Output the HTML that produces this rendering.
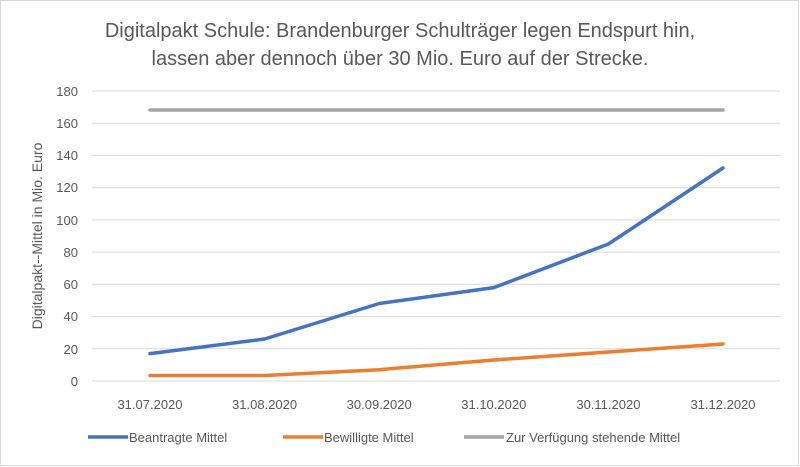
<!DOCTYPE html>
<html><head><meta charset="utf-8"><style>
html,body{margin:0;padding:0;background:#fff;}
svg{display:block;font-family:"Liberation Sans",sans-serif;}
</style></head><body>
<svg width="800" height="467" viewBox="0 0 800 467">
<rect x="0.5" y="0.5" width="798" height="465" fill="#fff" stroke="#d9d9d9"/>
<text x="400" y="37" font-size="20" fill="#595959" text-anchor="middle">Digitalpakt Schule: Brandenburger Schulträger legen Endspurt hin,</text>
<text x="400" y="65" font-size="20" fill="#595959" text-anchor="middle">lassen aber dennoch über 30 Mio. Euro auf der Strecke.</text>
<g stroke="#d9d9d9" stroke-width="1">
<line x1="92" x2="780" y1="91" y2="91"/>
<line x1="92" x2="780" y1="123.2" y2="123.2"/>
<line x1="92" x2="780" y1="155.4" y2="155.4"/>
<line x1="92" x2="780" y1="187.7" y2="187.7"/>
<line x1="92" x2="780" y1="219.9" y2="219.9"/>
<line x1="92" x2="780" y1="252.1" y2="252.1"/>
<line x1="92" x2="780" y1="284.3" y2="284.3"/>
<line x1="92" x2="780" y1="316.6" y2="316.6"/>
<line x1="92" x2="780" y1="348.8" y2="348.8"/>
<line x1="92" x2="780" y1="381" y2="381"/>
</g>
<g font-size="13" fill="#595959" text-anchor="end">
<text x="78" y="96">180</text><text x="78" y="128">160</text><text x="78" y="160">140</text>
<text x="78" y="192">120</text><text x="78" y="225">100</text><text x="78" y="257">80</text>
<text x="78" y="289">60</text><text x="78" y="321">40</text><text x="78" y="354">20</text>
<text x="78" y="386">0</text>
</g>
<text transform="translate(42,236) rotate(-90)" font-size="14" fill="#595959" text-anchor="middle">Digitalpakt--Mittel in Mio. Euro</text>
<g font-size="13" fill="#595959" text-anchor="middle">
<text x="150" y="409">31.07.2020</text><text x="264.6" y="409">31.08.2020</text>
<text x="379.2" y="409">30.09.2020</text><text x="493.8" y="409">31.10.2020</text>
<text x="608.4" y="409">30.11.2020</text><text x="723" y="409">31.12.2020</text>
</g>
<g fill="none" stroke-width="3.5" stroke-linejoin="round" stroke-linecap="round">
<polyline stroke="#a5a5a5" points="150,110 723,110"/>
<polyline stroke="#ed7d31" points="150,375.5 264.6,375.5 379.2,369.7 493.8,360 608.4,352 723,344"/>
<polyline stroke="#4472c4" points="150,353.6 264.6,339 379.2,303.5 493.8,287.6 608.4,244 723,168"/>
</g>
<g font-size="13" fill="#595959">
<line x1="88" x2="128" y1="437" y2="437" stroke="#4472c4" stroke-width="3.5"/>
<text x="129" y="442">Beantragte Mittel</text>
<line x1="283" x2="323" y1="437" y2="437" stroke="#ed7d31" stroke-width="3.5"/>
<text x="324" y="442">Bewilligte Mittel</text>
<line x1="464" x2="504" y1="437" y2="437" stroke="#a5a5a5" stroke-width="3.5"/>
<text x="506" y="442">Zur Verfügung stehende Mittel</text>
</g>
</svg>
</body></html>
